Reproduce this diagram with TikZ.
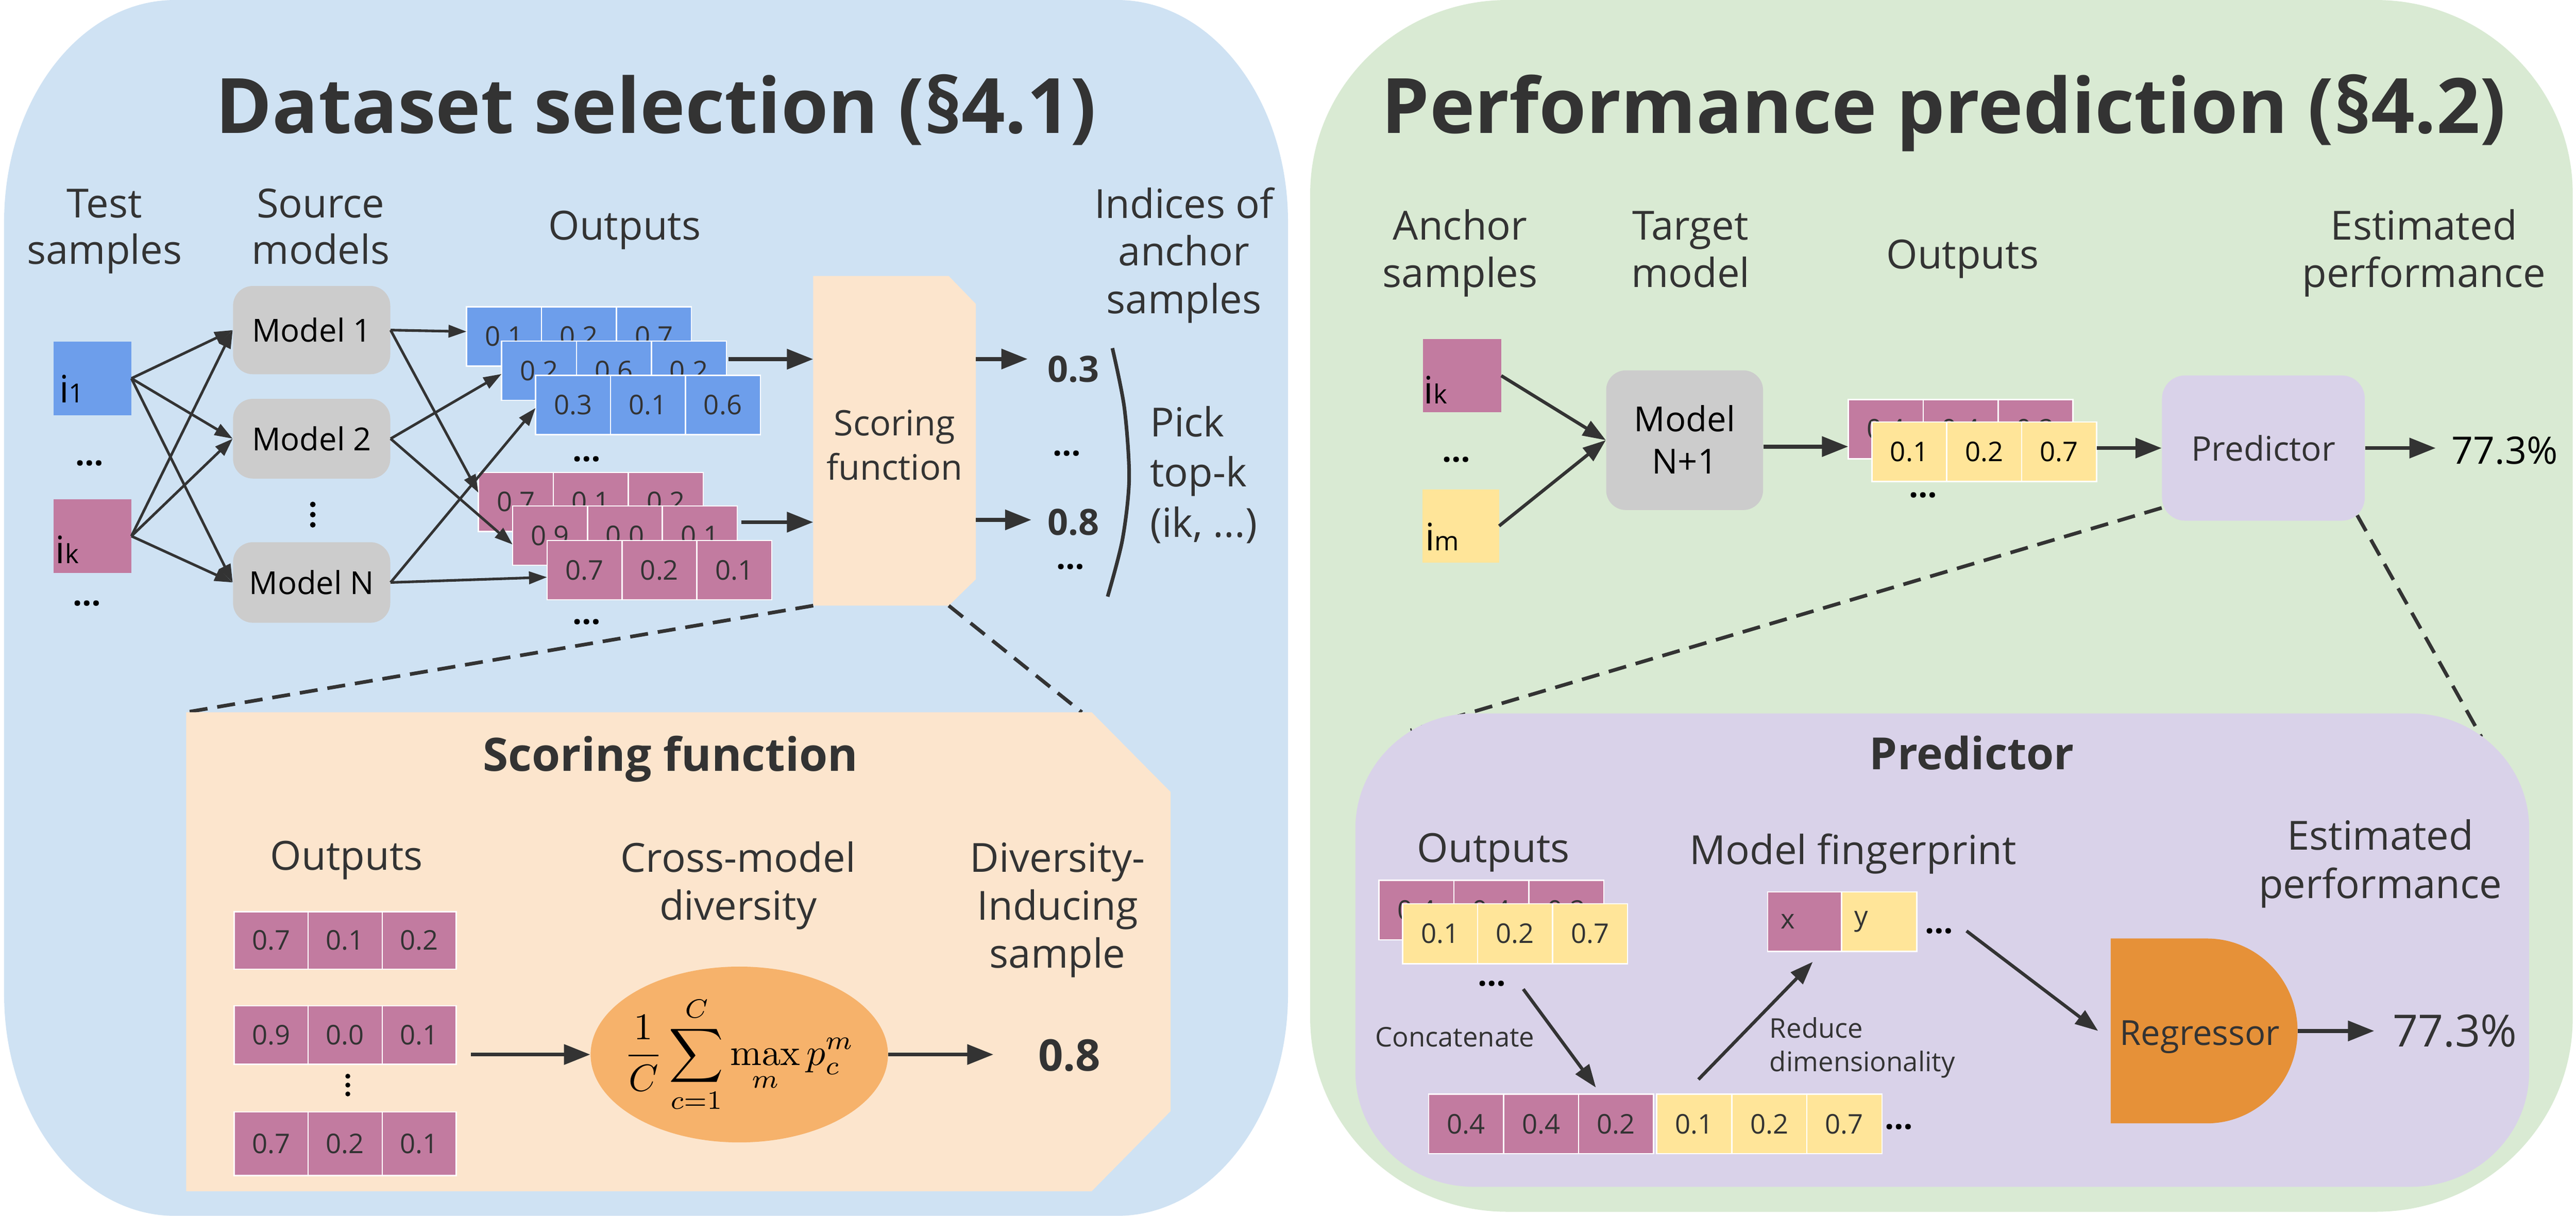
\documentclass[tikz,border=0pt]{standalone}
\usepackage{graphicx}
\usepackage[no-math]{fontspec}
\setmainfont{Open Sans}
\usetikzlibrary{arrows.meta,calc,shapes.geometric}
\definecolor{tc}{HTML}{333333}
\definecolor{bluebg}{HTML}{CFE2F3}
\definecolor{greenbg}{HTML}{D9EAD3}
\definecolor{lavbg}{HTML}{D9D2E9}
\definecolor{peach}{HTML}{FCE5CD}
\definecolor{grayb}{HTML}{CCCCCC}
\definecolor{bluec}{HTML}{6D9EEB}
\definecolor{pinkc}{HTML}{C27BA0}
\definecolor{yelc}{HTML}{FFE599}
\definecolor{orl}{HTML}{F6B26B}
\definecolor{ord}{HTML}{E69138}
\newcommand{\fsz}[2]{\fontsize{#1}{#2}\selectfont}
\newcommand{\firstln}{\rule{0pt}{1em}}
\newcommand{\cellrow}[9]{%
 \node[cell, fill=#4, minimum width=#8pt, minimum height=#9pt, anchor=north west] (#1a) at (#2,#3) {#5};
 \node[cell, fill=#4, minimum width=#8pt, minimum height=#9pt, anchor=west] (#1b) at (#1a.east) {#6};
 \node[cell, fill=#4, minimum width=#8pt, minimum height=#9pt, anchor=west] (#1c) at (#1b.east) {#7};}
\newcommand{\panel}[7]{\fill[#7] ({#1+#5},#2) -- ({#3-#5},#2) arc[start angle=90,end angle=0,x radius=#5pt,y radius=#6pt] -- (#3,{#4-#6}) arc[start angle=0,end angle=-90,x radius=#5pt,y radius=#6pt] -- ({#1+#5},#4) arc[start angle=270,end angle=180,x radius=#5pt,y radius=#6pt] -- (#1,{#2+#6}) arc[start angle=180,end angle=90,x radius=#5pt,y radius=#6pt] -- cycle;}
\begin{document}
\begin{tikzpicture}[x=1pt,y=-1pt,
 cell/.style={inner sep=0, outer sep=0, draw=white, line width=0.8pt, font=\fsz{16.5}{18}, text=tc},
 lbl/.style={text=tc, inner sep=0, anchor=base, font=\fsz{24.4}{28.4}},
 ml/.style={text=tc, inner sep=0, anchor=north, align=center},
 mbox/.style={fill=grayb, rounded corners=12pt, inner sep=0, text=black},
 sq/.style={inner sep=0, outer sep=0},
 arr/.style={draw=tc, line width=1.6pt, -{Triangle[length=11pt,width=7.5pt]}},
 arrm/.style={draw=tc, line width=2pt, -{Triangle[length=14pt,width=10pt]}},
 arrt/.style={draw=tc, line width=2.4pt, -{Triangle[length=16pt,width=12pt]}},
 dsh/.style={draw=tc, line width=2.2pt, dash pattern=on 11pt off 6pt},
 dts/.style={text=black, inner sep=0, font=\fsz{20}{24}\bfseries},
 vdot/.style={fill=black},
]
\useasboundingbox (0,0) rectangle (1568,740);
% panels
\panel{2.5}{0}{784}{740}{104}{135}{bluebg}
\panel{797.5}{0}{1566}{737.5}{120}{118}{greenbg}

% titles
\node[text=tc, inner sep=0, anchor=base, font=\fsz{46.5}{50}\bfseries] (t1) at (399.4,81) {Dataset selection (§4.1)};
\node[text=tc, inner sep=0, anchor=base, font=\fsz{46.5}{50}\bfseries] (t2) at (1183.2,81) {Performance prediction (§4.2)};

% ---------- left panel ----------
\node[ml, font=\fsz{24.4}{28.4}] (lts) at (63.6,107.8) {\firstln Test\\samples};
\node[ml, font=\fsz{24.4}{28.4}] (lsm) at (195.2,107.8) {\firstln Source\\models};
\node[lbl] (lout) at (380.2,146) {Outputs};
\node[ml, font=\fsz{24.4}{29.1}] (lind) at (720.7,108.1) {\firstln Indices of\\anchor\\samples};

\node[sq, fill=bluec, minimum width=47.4pt, minimum height=44.6pt] (i1) at (56.3,230.3) {};
\node[inner sep=0, anchor=base west, text=black] (i1t) at (36,245) {\fsz{23}{26}i\fsz{16}{18}1};
\node[sq, fill=pinkc, minimum width=47.4pt, minimum height=44.6pt] (ik) at (56.3,326.3) {};
\node[inner sep=0, anchor=base west, text=black] (ikt) at (33.5,343) {\fsz{23}{26}i\fsz{16}{18}k};
\node[dts] (d1) at (54.4,282) {…};
\node[dts] (d2) at (52.8,367.3) {…};

\node[mbox, minimum width=95.7pt, minimum height=53.7pt, font=\fsz{19.3}{22}] (m1) at (189.7,200.9) {Model 1};
\node[mbox, minimum width=95.7pt, minimum height=48.5pt, font=\fsz{19.3}{22}] (m2) at (189.7,267) {Model 2};
\node[mbox, minimum width=95.7pt, minimum height=49pt, font=\fsz{19.3}{22}] (mN) at (189.7,354.5) {Model N};
\fill[vdot] (190.4,307) circle[radius=1.7pt];
\fill[vdot] (190.4,313.2) circle[radius=1.7pt];
\fill[vdot] (190.4,319.4) circle[radius=1.7pt];

\cellrow{A}{284}{186.8}{bluec}{0.1}{0.2}{0.7}{45.6}{36}
\cellrow{B}{305.3}{207.6}{bluec}{0.2}{0.6}{0.2}{45.6}{36}
\cellrow{C}{326}{228.5}{bluec}{0.3}{0.1}{0.6}{45.6}{36}
\cellrow{D}{291.2}{287.5}{pinkc}{0.7}{0.1}{0.2}{45.6}{36}
\cellrow{E}{312}{308}{pinkc}{0.9}{0.0}{0.1}{45.6}{36}
\cellrow{F}{333}{329}{pinkc}{0.7}{0.2}{0.1}{45.6}{36}
\node[dts] (d3) at (357,279.3) {…};
\node[dts] (d4) at (357,378.5) {…};

\foreach \s in {i1,ik} \foreach \m in {m1,m2,mN} \draw[arr] (\s.east) -- (\m.west);
\draw[arr] (m1.east) -- ([yshift=3pt]Aa.west);
\draw[arr] (m1.east) -- ([yshift=5.6pt]Da.west);
\draw[arr] (m2.east) -- ([yshift=-2pt]Ba.west);
\draw[arr] (m2.east) -- ([yshift=-5.4pt]Ea.west);
\draw[arr] (mN.east) -- ([yshift=-1.8pt]Ca.west);
\draw[arr] (mN.east) -- ([yshift=-4.3pt]Fa.west);

% scoring function (top)
\fill[peach] (495,168) -- (577.5,168) -- (594,185) -- (594,352.5) -- (577.5,368.6) -- (495,368.6) -- cycle;
\node[sq, minimum width=99pt, minimum height=200.6pt] (sf) at (544.5,268.3) {};
\node[ml, font=\fsz{21.4}{27}] (sft) at (544.5,243.6) {\firstln Scoring\\function};
\coordinate (s1) at ([shift={(1.4pt,7pt)}]Bc.east);
\draw[arrt] (s1) -- (s1 -| sf.west);
\coordinate (s2) at ([shift={(2.4pt,8.2pt)}]Ec.east);
\draw[arrt] (s2) -- (s2 -| sf.west);

\node[inner sep=0, anchor=base west, text=tc, font=\fsz{22}{26}\bfseries] (v03) at (637.5,232.5) {0.3};
\node[inner sep=0, anchor=base west, text=tc, font=\fsz{22}{26}\bfseries] (v08) at (637.5,325.7) {0.8};
\node[dts] (d5) at (649.4,276) {…};
\node[dts] (d6) at (651.5,345) {…};
\coordinate (o1) at ([yshift=49.8pt]sf.east);
\draw[arrt, shorten >=12pt] (o1) -- (o1 -| v03.west);
\coordinate (o2) at ([yshift=-48.1pt]sf.east);
\draw[arrt, shorten >=9.7pt] (o2) -- (o2 -| v08.west);

\draw[tc, line width=2.2pt] plot[smooth] coordinates {(677.1,211.9) (684.4,248.3) (687.3,291.2) (683.2,328.5) (674.2,363.1)};
\node[text=tc, inner sep=0, anchor=north west, align=left, font=\fsz{24.4}{30.6}] (pick) at (699.8,241.1) {\firstln Pick\\top-k\\(ik, ...)};

% scoring function (detail)
\node[sq, minimum width=599.2pt, minimum height=291.5pt] (sfp) at (412.9,579.25) {};
\draw[dsh] (sf.south west) -- (sfp.north west);
\draw[dsh] ([xshift=-16.5pt]sf.south east) -- ([xshift=-54pt]sfp.north east);
\fill[peach] (113.3,433.5) -- (664.5,433.5) -- (712.5,482) -- (712.5,676.3) -- (664.5,725) -- (113.3,725) -- cycle;
\node[text=tc, inner sep=0, anchor=base, font=\fsz{28}{32}\bfseries] (sft2) at (408.2,469.2) {Scoring function};
\node[lbl] (out2) at (211,529.5) {Outputs};
\node[ml, font=\fsz{24.4}{29.3}] (cmd) at (449.3,506.1) {\firstln Cross-model\\diversity};
\node[ml, font=\fsz{24.4}{29.2}] (dis) at (643.7,506.1) {\firstln Diversity-\\Inducing\\sample};
\cellrow{R}{142.5}{554.9}{pinkc}{0.7}{0.1}{0.2}{45.07}{35}
\cellrow{S}{142.5}{612.2}{pinkc}{0.9}{0.0}{0.1}{45.07}{35.6}
\cellrow{T}{142.5}{676.8}{pinkc}{0.7}{0.2}{0.1}{45.07}{38.7}
\fill[vdot] (211.7,655) circle[radius=1.5pt];
\fill[vdot] (211.7,660.4) circle[radius=1.5pt];
\fill[vdot] (211.7,665.8) circle[radius=1.5pt];
\node[ellipse, fill=orl, minimum width=181pt, minimum height=107pt, inner sep=0] (ell) at (450,641.8) {};
\node[inner sep=0] (fm) at (450,641.8) {\scalebox{2.3}{\fsz{10}{12}$\displaystyle\frac{1}{C}\sum_{c=1}^{C}\max_{m}p_c^m$}};
\coordinate (s3) at ([shift={(9pt,-11.8pt)}]Sc.east);
\draw[arrt] (s3) -- (s3 -| ell.west);
\node[inner sep=0, anchor=base west, text=tc, font=\fsz{26.6}{30}\bfseries] (v08b) at (631.7,651.8) {0.8};
\draw[arrt, shorten >=27pt] (ell.east) -- (ell.east -| v08b.west);

% ---------- right panel ----------
\node[ml, font=\fsz{24.4}{28.9}] (as) at (888.8,121.4) {\firstln Anchor\\samples};
\node[ml, font=\fsz{24.4}{28.9}] (tm) at (1029,121.4) {\firstln Target\\model};
\node[lbl] (out4) at (1194.6,163.5) {Outputs};
\node[ml, font=\fsz{24.4}{28.9}] (ep1) at (1475.4,121.4) {\firstln Estimated\\performance};

\node[sq, fill=pinkc, minimum width=47.6pt, minimum height=44.7pt] (rk) at (890,228.65) {};
\node[inner sep=0, anchor=base west, text=black] (rkt) at (866.5,245.8) {\fsz{23}{26}i\fsz{16}{18}k};
\node[sq, fill=yelc, minimum width=46.8pt, minimum height=44.6pt] (rm) at (889.1,320.1) {};
\node[inner sep=0, anchor=base west, text=black] (rmt) at (867.3,335.1) {\fsz{23}{26}i\fsz{16}{18}m};
\node[dts] (d7) at (886.4,279.6) {…};
\node[mbox, minimum width=95.5pt, minimum height=85pt] (mn1) at (1025.4,267.9) {};
\node[ml, text=black, font=\fsz{21}{26}] (mn1t) at (1025.4,241.3) {\firstln Model\\N+1};
\draw[arrm] (rk.east) -- (mn1.west);
\draw[arrm] (rm.east) -- (mn1.west);
\cellrow{P}{1125}{243.2}{pinkc}{0.4}{0.4}{0.2}{45.6}{36.1}
\cellrow{Q}{1139.4}{256.8}{yelc, text=black}{0.1}{0.2}{0.7}{45.6}{36.3}
\node[dts] (d8) at (1170.6,301.3) {…};
\coordinate (s4) at ([yshift=-3.9pt]mn1.east);
\draw[arrt] (s4) -- (s4 -| Pa.west);
\node[fill=lavbg, rounded corners=14pt, minimum width=123.4pt, minimum height=88.4pt, inner sep=0, text=tc, font=\fsz{20.6}{24}] (pred) at (1377.7,272.7) {Predictor};
\draw[arrt] (pred.west -| Qc.east) -- (pred.west);
\node[inner sep=0, anchor=base west, text=black, font=\fsz{23}{26}] (v77a) at (1492.2,282.3) {77.3\%};
\draw[arrt, shorten >=9.6pt] (pred.east) -- (pred.east -| v77a.west);

% predictor detail
\coordinate (lvl) at (858.6,444.5);
\coordinate (lvr) at (1510.4,448.5);
\draw[dsh] ([yshift=8pt]pred.south west) -- (lvl);
\draw[dsh] ([shift={(-4.8pt,3.5pt)}]pred.south east) -- (lvr);
\panel{825}{434.2}{1539.5}{722.3}{72}{70}{lavbg}
\node[text=tc, inner sep=0, anchor=base, font=\fsz{27}{30}\bfseries] (pt) at (1200.3,468.3) {Predictor};
\node[lbl] (out3) at (909,524.9) {Outputs};
\node[lbl] (mfp) at (1127.9,525.9) {Model fingerprint};
\node[ml, font=\fsz{24.4}{29.7}] (ep2) at (1448.9,492.6) {\firstln Estimated\\performance};
\cellrow{U}{839.4}{535.8}{pinkc}{0.4}{0.4}{0.2}{45.6}{36.2}
\cellrow{V}{853.8}{550}{yelc}{0.1}{0.2}{0.7}{45.6}{36.5}
\node[dts] (d9) at (908,598.8) {…};
\node[cell, fill=pinkc, minimum width=45pt, minimum height=36.2pt, anchor=north west] (fx) at (1076,542.8) {\makebox[45pt][l]{\hspace{8pt}x}};
\node[cell, fill=yelc, minimum width=45.7pt, minimum height=36.2pt, anchor=west] (fy) at (fx.east) {\makebox[45.7pt][l]{\hspace{7.8pt}y}};
\node[dts] (d10) at (1180.2,566.6) {…};
\cellrow{W}{869.6}{665.9}{pinkc}{0.4}{0.4}{0.2}{45.6}{36.3}
\cellrow{X}{1008.4}{665.9}{yelc}{0.1}{0.2}{0.7}{45.7}{36.3}
\node[dts] (d11) at (1155.7,685.7) {…};
\node[text=tc, inner sep=0, anchor=base, font=\fsz{16.5}{20}] (cc) at (885.5,637) {Concatenate};
\node[text=tc, inner sep=0, anchor=north west, align=left, font=\fsz{16.5}{20.5}] (rd) at (1077,615) {\firstln Reduce\\dimensionality};

\fill[ord] (1284.8,571.2) -- (1343.3,571.2) arc[start angle=90,end angle=-90,x radius=55.2pt,y radius=56.25pt] -- (1284.8,683.7) -- cycle;
\node[sq, minimum width=113.7pt, minimum height=112.5pt] (regb) at (1341.65,627.45) {};
\node[text=tc, inner sep=0, anchor=base, font=\fsz{21}{24}] (reg) at (1339,636) {Regressor};
\node[text=tc, inner sep=0, anchor=base west, font=\fsz{27}{30}] (v77b) at (1456.2,637) {77.3\%};

\coordinate (c0) at (927.2,602);
\draw[arrm] (c0) -- ([shift={(10.6pt,4pt)}]Wc.north west);
\draw[arrm] ([shift={(25.4pt,8.9pt)}]Xa.north west) -- ([shift={(-17.6pt,-6.4pt)}]fx.south east);
\coordinate (c1) at (1197,566.6);
\draw[arrm] (c1) -- ([xshift=-7.7pt]regb.west);
\draw[arrt, shorten >=11pt] (regb.east) -- (regb.east -| v77b.west);
\end{tikzpicture}
\end{document}
